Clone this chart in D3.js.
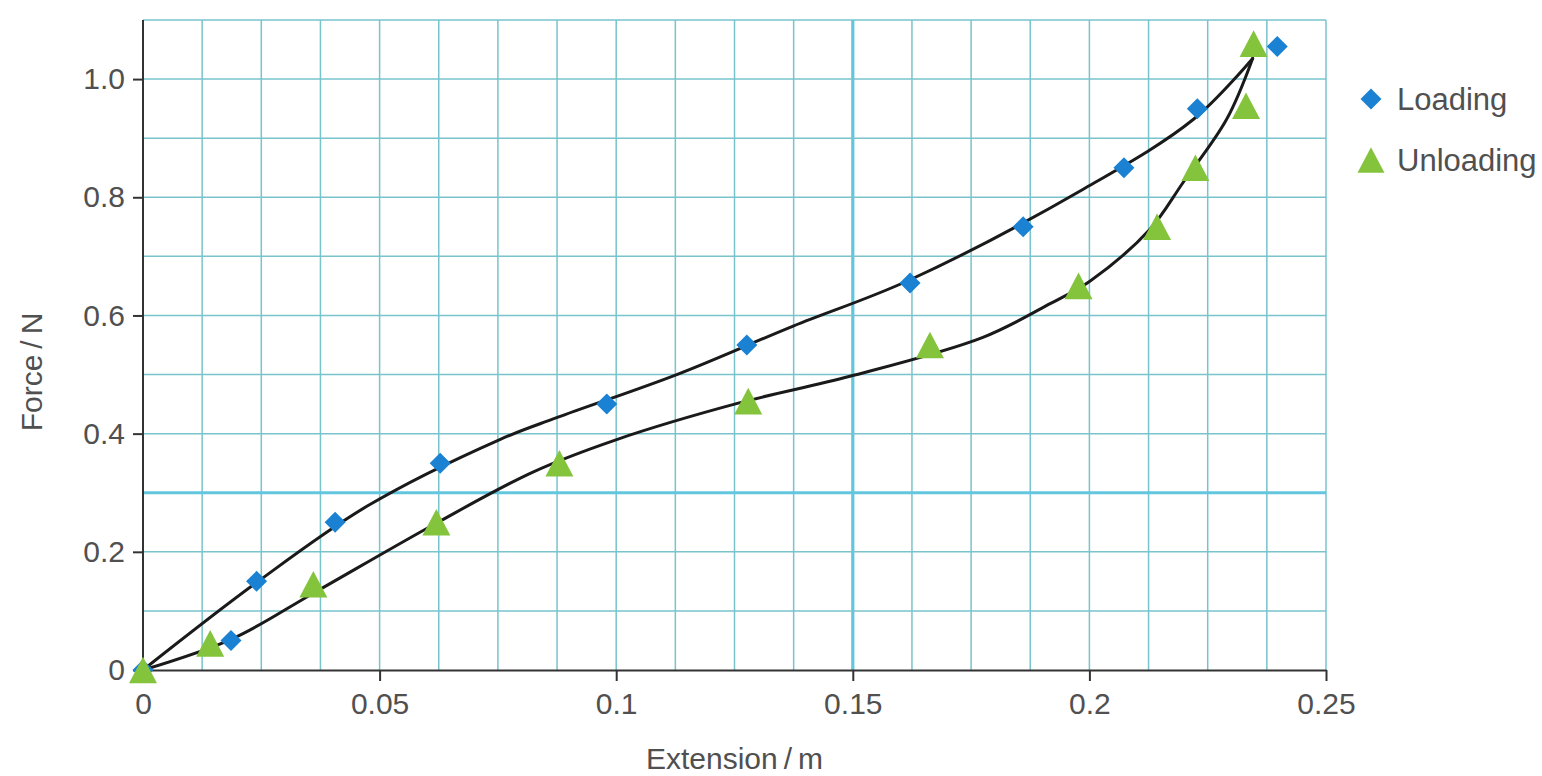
<!DOCTYPE html>
<html>
<head>
<meta charset="utf-8">
<script src="https://cdn.jsdelivr.net/npm/d3@7"></script>
<style>
  html, body { margin: 0; padding: 0; background: #ffffff; }
  svg { display: block; }
  text { font-family: "Liberation Sans", Arial, Helvetica, sans-serif; fill: #505050; }
</style>
</head>
<body>
<svg id="chart" width="1542" height="776"></svg>
<script>
// Measured points: extension (m) and force (N)
const loadingX = [0, 0.0186, 0.024, 0.0406, 0.0628, 0.098, 0.1276, 0.1621, 0.186, 0.2073, 0.2228, 0.2397];
const loadingY = [0, 0.05, 0.15, 0.25, 0.35, 0.45, 0.55, 0.655, 0.75, 0.85, 0.95, 1.055];

const unloadingX = [0.2347, 0.2331, 0.2224, 0.2143, 0.1977, 0.1663, 0.1279, 0.088, 0.062, 0.036, 0.0142, 0];
const unloadingY = [1.06, 0.955, 0.85, 0.75, 0.65, 0.55, 0.455, 0.35, 0.25, 0.145, 0.045, 0];

// Hand-drawn best-fit curves through each data set
const loadingFitX = [0, 0.024, 0.0473, 0.0754, 0.0874, 0.1128, 0.1374, 0.162, 0.1987, 0.222, 0.2345];
const loadingFitY = [0, 0.148, 0.277, 0.39, 0.427, 0.5, 0.582, 0.66, 0.8136, 0.932, 1.035];

const unloadingFitX = [0, 0.0191, 0.036, 0.0614, 0.0824, 0.1001, 0.126, 0.1494, 0.1775, 0.1917, 0.2001, 0.2128, 0.2198, 0.229, 0.2345];
const unloadingFitY = [0, 0.0537, 0.13, 0.2458, 0.335, 0.39, 0.452, 0.497, 0.563, 0.62, 0.658, 0.746, 0.825, 0.932, 1.035];

// Axis ticks and labels
const xTickValues = [0, 0.05, 0.1, 0.15, 0.2, 0.25];
const xTickLabels = ["0", "0.05", "0.1", "0.15", "0.2", "0.25"];
const yTickValues = [0, 0.2, 0.4, 0.6, 0.8, 1.0];
const yTickLabels = ["0", "0.2", "0.4", "0.6", "0.8", "1.0"];

// Graph-paper grid
const xGridStep = 0.0125;
const yGridStep = 0.1;
const xMajorLine = 0.15;
const yMajorLine = 0.3;

const seriesNames = ["Loading", "Unloading"];

const svg = d3.select("#chart");
const x = d3.scaleLinear().domain([0, 0.25]).range([143, 1326]);
const y = d3.scaleLinear().domain([0, 1.1]).range([670, 20]);

const blue = "#1b82d3";
const green = "#84c43c";
const gridColor = "#78c3cc";
const majorColor = "#62c6de";

// grid lines
const xGrid = d3.range(1, 21).map(i => +(i * xGridStep).toFixed(4));
const yGrid = d3.range(1, 12).map(i => +(i * yGridStep).toFixed(2));

const grid = svg.append("g");
grid.selectAll("line.vx").data(xGrid).join("line")
  .attr("x1", d => x(d)).attr("x2", d => x(d))
  .attr("y1", y(1.1)).attr("y2", y(0))
  .attr("stroke", d => Math.abs(d - xMajorLine) < 1e-6 ? majorColor : gridColor)
  .attr("stroke-width", d => Math.abs(d - xMajorLine) < 1e-6 ? 3.2 : 1.5);
grid.selectAll("line.hy").data(yGrid).join("line")
  .attr("y1", d => y(d)).attr("y2", d => y(d))
  .attr("x1", x(0)).attr("x2", x(0.25))
  .attr("stroke", d => Math.abs(d - yMajorLine) < 1e-6 ? majorColor : gridColor)
  .attr("stroke-width", d => Math.abs(d - yMajorLine) < 1e-6 ? 3.2 : 1.5);

// axes
const xAxis = d3.axisBottom(x).tickValues(xTickValues)
  .tickFormat((d, i) => xTickLabels[i]).tickSize(11).tickSizeOuter(0).tickPadding(12);
const yAxis = d3.axisLeft(y).tickValues(yTickValues)
  .tickFormat((d, i) => yTickLabels[i]).tickSize(10).tickSizeOuter(0).tickPadding(8);

const gx = svg.append("g").attr("transform", `translate(0,${y(0)})`).call(xAxis);
const gy = svg.append("g").attr("transform", `translate(${x(0)},0)`).call(yAxis);
gy.select(".domain").attr("d", `M0,${y(1.1)}V${y(0)}`);
[gx, gy].forEach(g => {
  g.select(".domain").attr("stroke", "#333").attr("stroke-width", 2);
  g.selectAll(".tick line").attr("stroke", "#333").attr("stroke-width", 2);
  g.selectAll(".tick text").attr("fill", "#505050")
    .style("font-size", "30px").style("font-family", "'Liberation Sans', Arial, sans-serif");
});

// axis titles
svg.append("text").attr("x", x(0.125)).attr("y", 769)
  .attr("text-anchor", "middle").style("font-size", "30px")
  .text("Extension\u2009/\u2009m");
svg.append("text")
  .attr("transform", `translate(42,${372}) rotate(-90)`)
  .attr("text-anchor", "middle").style("font-size", "30px")
  .text("Force\u2009/\u2009N");

// marker shapes
const triangleType = {
  draw(ctx, size) {
    const w = Math.sqrt(size), h = w * 0.95;
    ctx.moveTo(0, -h / 2);
    ctx.lineTo(w / 2, h / 2);
    ctx.lineTo(-w / 2, h / 2);
    ctx.closePath();
  }
};
const diamondType = {
  draw(ctx, size) {
    const r = Math.sqrt(size) / 2;
    ctx.moveTo(0, -r);
    ctx.lineTo(r, 0);
    ctx.lineTo(0, r);
    ctx.lineTo(-r, 0);
    ctx.closePath();
  }
};
const triPath = d3.symbol().type(triangleType).size(28 * 28)();
const diaPath = d3.symbol().type(diamondType).size(21 * 21)();

const loadPts = loadingX.map((v, i) => [v, loadingY[i]]);
const unloadPts = unloadingX.map((v, i) => [v, unloadingY[i]]);

// fitted curves
const line = d3.line().x(d => x(d[0])).y(d => y(d[1])).curve(d3.curveCatmullRom.alpha(0.5));
const fits = [
  loadingFitX.map((v, i) => [v, loadingFitY[i]]),
  unloadingFitX.map((v, i) => [v, unloadingFitY[i]])
];
svg.append("g").selectAll("path").data(fits).join("path")
  .attr("d", line)
  .attr("fill", "none")
  .attr("stroke", "#1a1a1a")
  .attr("stroke-width", 3)
  .attr("stroke-linecap", "round");

// loading markers
svg.append("g").selectAll("path").data(loadPts).join("path")
  .attr("d", diaPath)
  .attr("transform", d => `translate(${x(d[0])},${y(d[1])})`)
  .attr("fill", blue);

// unloading markers
svg.append("g").selectAll("path").data(unloadPts).join("path")
  .attr("d", triPath)
  .attr("transform", d => `translate(${x(d[0])},${y(d[1])})`)
  .attr("fill", green);

// legend
const legend = svg.append("g");
const legendRows = [
  { name: seriesNames[0], path: diaPath, color: blue, cy: 99, ty: 110 },
  { name: seriesNames[1], path: d3.symbol().type(triangleType).size(27 * 27)(), color: green, cy: 160, ty: 171 }
];
legendRows.forEach(r => {
  legend.append("path").attr("d", r.path)
    .attr("transform", `translate(1371,${r.cy})`).attr("fill", r.color);
  legend.append("text").attr("x", 1397).attr("y", r.ty)
    .style("font-size", "31px").text(r.name);
});
</script>
</body>
</html>
